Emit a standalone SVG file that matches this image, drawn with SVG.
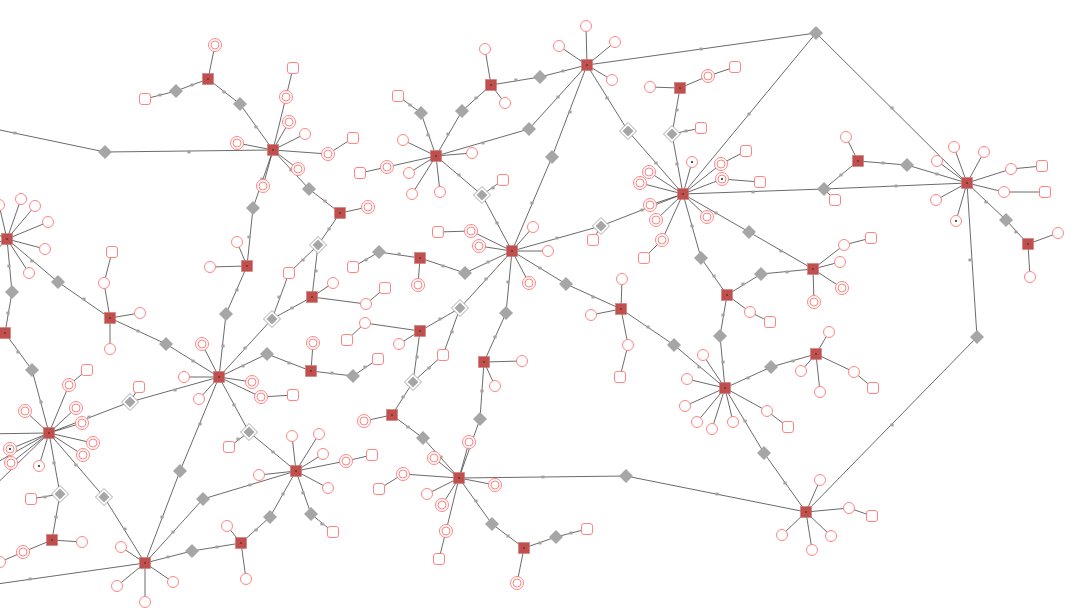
<svg xmlns="http://www.w3.org/2000/svg" width="1080" height="608" viewBox="0 0 1080 608">
<style>
.lf{fill:#fff;stroke:#ff8585;stroke-width:1}
#connectors line{stroke:#3a3a3a;stroke-width:0.75}
</style>
<defs>
<circle id="c" r="5.5" class="lf"/>
<g id="cc"><circle r="6.5" class="lf"/><circle r="4" class="lf"/></g>
<g id="cd"><circle r="5.5" class="lf"/><circle r="0.9" fill="#000"/></g>
<g id="ccd"><circle r="6.5" class="lf"/><circle r="4" class="lf"/><circle r="0.9" fill="#000"/></g>
<rect id="rs" x="-5.5" y="-5.5" width="11" height="11" rx="2.5" class="lf"/>
<g id="hub"><rect x="-5.5" y="-5.5" width="11" height="11" fill="#c0504d" stroke="#d07a78" stroke-width="0.6"/><circle r="0.7" fill="#111"/></g>
<polygon id="dia" points="0,-7 7,0 0,7 -7,0" fill="#a6a6a6"/>
<g id="odia"><polygon points="0,-8.5 8.5,0 0,8.5 -8.5,0" fill="#fff" stroke="#aaa" stroke-width="1"/><polygon points="0,-5.5 5.5,0 0,5.5 -5.5,0" fill="#a6a6a6"/></g>
<rect id="lb" x="-1.6" y="-1.4" width="3.2" height="2.8" fill="#a89f9f"/>
</defs>
<rect width="1080" height="608" fill="#fff"/>
<g id="connectors">
<line x1="7" y1="239" x2="-1" y2="205"/><line x1="7" y1="239" x2="21" y2="199"/><line x1="7" y1="239" x2="35" y2="206"/><line x1="7" y1="239" x2="48" y2="222"/><line x1="7" y1="239" x2="45" y2="249"/><line x1="7" y1="239" x2="29" y2="273"/><line x1="7" y1="239" x2="-20" y2="226"/><line x1="7" y1="239" x2="-20" y2="250"/><line x1="7" y1="239" x2="-20" y2="268"/>
<line x1="273" y1="150" x2="286" y2="97"/><line x1="286" y1="97" x2="293" y2="68"/><line x1="273" y1="150" x2="289" y2="122"/><line x1="273" y1="150" x2="305" y2="134"/><line x1="273" y1="150" x2="237" y2="143"/><line x1="273" y1="150" x2="328" y2="154"/><line x1="328" y1="154" x2="353" y2="138"/><line x1="273" y1="150" x2="298" y2="169"/><line x1="273" y1="150" x2="263" y2="186"/>
<line x1="208" y1="79" x2="215" y2="45"/>
<line x1="436" y1="156" x2="403" y2="140"/><line x1="436" y1="156" x2="472" y2="153"/><line x1="436" y1="156" x2="387" y2="167"/><line x1="387" y1="167" x2="360" y2="173"/><line x1="436" y1="156" x2="409" y2="173"/><line x1="436" y1="156" x2="412" y2="194"/><line x1="436" y1="156" x2="440" y2="192"/>
<line x1="587" y1="65" x2="586" y2="26"/><line x1="587" y1="65" x2="559" y2="46"/><line x1="587" y1="65" x2="615" y2="42"/><line x1="587" y1="65" x2="612" y2="80"/>
<line x1="491" y1="85" x2="485" y2="49"/><line x1="491" y1="85" x2="505" y2="103"/>
<line x1="512" y1="251" x2="471" y2="231"/><line x1="471" y1="231" x2="438" y2="232"/><line x1="512" y1="251" x2="479" y2="246"/><line x1="512" y1="251" x2="533" y2="227"/><line x1="512" y1="251" x2="548" y2="251"/><line x1="512" y1="251" x2="529" y2="283"/>
<line x1="683" y1="194" x2="692" y2="162"/><line x1="683" y1="194" x2="649" y2="172"/><line x1="683" y1="194" x2="640" y2="183"/><line x1="683" y1="194" x2="650" y2="205"/><line x1="683" y1="194" x2="656" y2="220"/><line x1="683" y1="194" x2="662" y2="240"/><line x1="662" y1="240" x2="644" y2="258"/><line x1="683" y1="194" x2="707" y2="217"/><line x1="683" y1="194" x2="721" y2="164"/><line x1="721" y1="164" x2="746" y2="151"/><line x1="683" y1="194" x2="722" y2="179"/><line x1="722" y1="179" x2="760" y2="182"/>
<line x1="680" y1="88" x2="650" y2="87"/><line x1="680" y1="88" x2="708" y2="76"/><line x1="708" y1="76" x2="735" y2="67"/>
<line x1="967" y1="183" x2="954" y2="147"/><line x1="967" y1="183" x2="984" y2="152"/><line x1="967" y1="183" x2="937" y2="161"/><line x1="967" y1="183" x2="1011" y2="169"/><line x1="1011" y1="169" x2="1042" y2="166"/><line x1="967" y1="183" x2="1004" y2="192"/><line x1="1004" y1="192" x2="1045" y2="192"/><line x1="967" y1="183" x2="936" y2="200"/><line x1="967" y1="183" x2="956" y2="221"/>
<line x1="858" y1="161" x2="846" y2="137"/>
<line x1="1028" y1="244" x2="1058" y2="233"/><line x1="1028" y1="244" x2="1030" y2="277"/>
<line x1="806" y1="512" x2="820" y2="480"/><line x1="806" y1="512" x2="849" y2="508"/><line x1="849" y1="508" x2="872" y2="516"/><line x1="806" y1="512" x2="831" y2="536"/><line x1="806" y1="512" x2="812" y2="550"/><line x1="806" y1="512" x2="782" y2="535"/>
<line x1="813" y1="269" x2="844" y2="245"/><line x1="844" y1="245" x2="871" y2="238"/><line x1="813" y1="269" x2="840" y2="262"/><line x1="813" y1="269" x2="842" y2="288"/><line x1="813" y1="269" x2="814" y2="302"/>
<line x1="727" y1="295" x2="750" y2="312"/><line x1="750" y1="312" x2="770" y2="322"/>
<line x1="816" y1="354" x2="829" y2="332"/><line x1="816" y1="354" x2="801" y2="371"/><line x1="816" y1="354" x2="820" y2="392"/><line x1="816" y1="354" x2="854" y2="372"/><line x1="854" y1="372" x2="873" y2="388"/>
<line x1="725" y1="388" x2="703" y2="355"/><line x1="725" y1="388" x2="687" y2="379"/><line x1="725" y1="388" x2="685" y2="406"/><line x1="725" y1="388" x2="697" y2="422"/><line x1="725" y1="388" x2="712" y2="429"/><line x1="725" y1="388" x2="733" y2="422"/><line x1="725" y1="388" x2="767" y2="411"/><line x1="767" y1="411" x2="788" y2="427"/>
<line x1="420" y1="258" x2="418" y2="285"/>
<line x1="420" y1="331" x2="365" y2="323"/><line x1="365" y1="323" x2="347" y2="340"/><line x1="420" y1="331" x2="399" y2="344"/>
<line x1="392" y1="415" x2="364" y2="421"/>
<line x1="484" y1="362" x2="522" y2="361"/><line x1="484" y1="362" x2="495" y2="386"/>
<line x1="459" y1="478" x2="434" y2="458"/><line x1="459" y1="478" x2="469" y2="442"/><line x1="459" y1="478" x2="403" y2="474"/><line x1="403" y1="474" x2="379" y2="489"/><line x1="459" y1="478" x2="427" y2="494"/><line x1="459" y1="478" x2="442" y2="505"/><line x1="459" y1="478" x2="495" y2="485"/><line x1="459" y1="478" x2="446" y2="531"/><line x1="446" y1="531" x2="439" y2="559"/>
<line x1="621" y1="309" x2="622" y2="279"/><line x1="621" y1="309" x2="591" y2="315"/><line x1="621" y1="309" x2="628" y2="345"/><line x1="628" y1="345" x2="620" y2="377"/>
<line x1="110" y1="318" x2="104" y2="283"/><line x1="104" y1="283" x2="112" y2="252"/><line x1="110" y1="318" x2="140" y2="313"/><line x1="110" y1="318" x2="110" y2="349"/>
<line x1="49" y1="433" x2="25" y2="411"/><line x1="49" y1="433" x2="76" y2="408"/><line x1="49" y1="433" x2="82" y2="423"/><line x1="49" y1="433" x2="93" y2="443"/><line x1="49" y1="433" x2="83" y2="455"/><line x1="49" y1="433" x2="10" y2="449"/><line x1="49" y1="433" x2="11" y2="463"/><line x1="49" y1="433" x2="39" y2="466"/><line x1="49" y1="433" x2="69" y2="385"/><line x1="69" y1="385" x2="87" y2="370"/><line x1="49" y1="433" x2="-20" y2="434"/><line x1="49" y1="433" x2="-20" y2="472"/><line x1="49" y1="433" x2="-20" y2="500"/>
<line x1="219" y1="377" x2="202" y2="344"/><line x1="219" y1="377" x2="184" y2="377"/><line x1="219" y1="377" x2="252" y2="382"/><line x1="219" y1="377" x2="261" y2="397"/><line x1="261" y1="397" x2="293" y2="395"/><line x1="219" y1="377" x2="199" y2="399"/>
<line x1="247" y1="266" x2="237" y2="242"/><line x1="247" y1="266" x2="210" y2="267"/>
<line x1="340" y1="213" x2="368" y2="207"/>
<line x1="312" y1="297" x2="333" y2="283"/><line x1="312" y1="297" x2="366" y2="304"/><line x1="366" y1="304" x2="385" y2="288"/>
<line x1="311" y1="371" x2="313" y2="343"/>
<line x1="52" y1="540" x2="82" y2="542"/><line x1="52" y1="540" x2="23" y2="552"/><line x1="23" y1="552" x2="0" y2="562"/>
<line x1="145" y1="563" x2="121" y2="547"/><line x1="145" y1="563" x2="117" y2="586"/><line x1="145" y1="563" x2="145" y2="602"/><line x1="145" y1="563" x2="173" y2="582"/><line x1="145" y1="563" x2="-10" y2="585"/>
<line x1="296" y1="471" x2="292" y2="436"/><line x1="296" y1="471" x2="319" y2="434"/><line x1="296" y1="471" x2="323" y2="454"/><line x1="296" y1="471" x2="346" y2="461"/><line x1="346" y1="461" x2="372" y2="455"/><line x1="296" y1="471" x2="259" y2="475"/><line x1="296" y1="471" x2="328" y2="488"/>
<line x1="241" y1="543" x2="227" y2="526"/><line x1="241" y1="543" x2="246" y2="579"/>
<line x1="524" y1="548" x2="517" y2="583"/>
<line x1="-5" y1="129" x2="105" y2="152"/><line x1="105" y1="152" x2="273" y2="150"/>
<line x1="208" y1="79" x2="176" y2="91"/><line x1="176" y1="91" x2="145" y2="99"/>
<line x1="208" y1="79" x2="240" y2="104"/><line x1="240" y1="104" x2="273" y2="150"/>
<line x1="273" y1="150" x2="309" y2="189"/><line x1="309" y1="189" x2="340" y2="213"/>
<line x1="273" y1="150" x2="253" y2="208"/><line x1="253" y1="208" x2="247" y2="266"/>
<line x1="587" y1="65" x2="540" y2="77"/><line x1="540" y1="77" x2="491" y2="85"/>
<line x1="491" y1="85" x2="462" y2="111"/><line x1="462" y1="111" x2="436" y2="156"/>
<line x1="436" y1="156" x2="421" y2="113"/><line x1="421" y1="113" x2="398" y2="96"/>
<line x1="436" y1="156" x2="529" y2="129"/><line x1="529" y1="129" x2="587" y2="65"/>
<line x1="587" y1="65" x2="552" y2="157"/><line x1="552" y1="157" x2="512" y2="251"/>
<line x1="436" y1="156" x2="482" y2="195"/><line x1="482" y1="195" x2="512" y2="251"/><line x1="482" y1="195" x2="503" y2="180"/>
<line x1="587" y1="65" x2="628" y2="131"/><line x1="628" y1="131" x2="683" y2="194"/>
<line x1="680" y1="88" x2="672" y2="134"/><line x1="672" y1="134" x2="683" y2="194"/><line x1="672" y1="134" x2="701" y2="128"/>
<line x1="587" y1="65" x2="816" y2="33"/><line x1="816" y1="33" x2="683" y2="194"/><line x1="816" y1="33" x2="967" y2="183"/>
<line x1="858" y1="161" x2="907" y2="165"/><line x1="907" y1="165" x2="967" y2="183"/>
<line x1="683" y1="194" x2="824" y2="189"/><line x1="824" y1="189" x2="967" y2="183"/><line x1="858" y1="161" x2="824" y2="189"/><line x1="824" y1="189" x2="835" y2="200"/>
<line x1="967" y1="183" x2="1006" y2="220"/><line x1="1006" y1="220" x2="1028" y2="244"/>
<line x1="967" y1="183" x2="977" y2="337"/><line x1="977" y1="337" x2="806" y2="512"/>
<line x1="683" y1="194" x2="749" y2="232"/><line x1="749" y1="232" x2="813" y2="269"/>
<line x1="727" y1="295" x2="761" y2="274"/><line x1="761" y1="274" x2="813" y2="269"/>
<line x1="727" y1="295" x2="720" y2="336"/><line x1="720" y1="336" x2="725" y2="388"/>
<line x1="816" y1="354" x2="771" y2="367"/><line x1="771" y1="367" x2="725" y2="388"/>
<line x1="683" y1="194" x2="701" y2="258"/><line x1="701" y1="258" x2="727" y2="295"/>
<line x1="621" y1="309" x2="674" y2="345"/><line x1="674" y1="345" x2="725" y2="388"/>
<line x1="512" y1="251" x2="566" y2="284"/><line x1="566" y1="284" x2="621" y2="309"/>
<line x1="512" y1="251" x2="465" y2="273"/><line x1="465" y1="273" x2="420" y2="258"/>
<line x1="420" y1="258" x2="379" y2="252"/><line x1="379" y1="252" x2="353" y2="267"/>
<line x1="512" y1="251" x2="506" y2="313"/><line x1="506" y1="313" x2="484" y2="362"/>
<line x1="484" y1="362" x2="480" y2="419"/><line x1="480" y1="419" x2="459" y2="478"/>
<line x1="392" y1="415" x2="423" y2="438"/><line x1="423" y1="438" x2="459" y2="478"/>
<line x1="459" y1="478" x2="626" y2="476"/><line x1="626" y1="476" x2="806" y2="512"/>
<line x1="459" y1="478" x2="492" y2="524"/><line x1="492" y1="524" x2="524" y2="548"/>
<line x1="524" y1="548" x2="556" y2="537"/><line x1="556" y1="537" x2="587" y2="529"/>
<line x1="725" y1="388" x2="764" y2="453"/><line x1="764" y1="453" x2="806" y2="512"/>
<line x1="512" y1="251" x2="601" y2="226"/><line x1="601" y1="226" x2="683" y2="194"/><line x1="601" y1="226" x2="593" y2="240"/>
<line x1="512" y1="251" x2="460" y2="308"/><line x1="460" y1="308" x2="420" y2="331"/><line x1="460" y1="308" x2="443" y2="355"/><line x1="443" y1="355" x2="413" y2="382"/>
<line x1="420" y1="331" x2="413" y2="382"/><line x1="413" y1="382" x2="392" y2="415"/>
<line x1="340" y1="213" x2="318" y2="245"/><line x1="318" y1="245" x2="289" y2="273"/><line x1="289" y1="273" x2="272" y2="319"/><line x1="272" y1="319" x2="219" y2="377"/>
<line x1="318" y1="245" x2="312" y2="297"/><line x1="312" y1="297" x2="272" y2="319"/>
<line x1="7" y1="239" x2="58" y2="282"/><line x1="58" y1="282" x2="110" y2="318"/>
<line x1="7" y1="239" x2="12" y2="292"/><line x1="12" y1="292" x2="5" y2="333"/>
<line x1="5" y1="333" x2="32" y2="370"/><line x1="32" y1="370" x2="49" y2="433"/>
<line x1="110" y1="318" x2="166" y2="344"/><line x1="166" y1="344" x2="219" y2="377"/>
<line x1="247" y1="266" x2="226" y2="314"/><line x1="226" y1="314" x2="219" y2="377"/>
<line x1="219" y1="377" x2="267" y2="354"/><line x1="267" y1="354" x2="311" y2="371"/>
<line x1="311" y1="371" x2="353" y2="376"/><line x1="353" y1="376" x2="378" y2="359"/>
<line x1="219" y1="377" x2="130" y2="402"/><line x1="130" y1="402" x2="49" y2="433"/><line x1="130" y1="402" x2="139" y2="387"/>
<line x1="49" y1="433" x2="60" y2="494"/><line x1="60" y1="494" x2="52" y2="540"/><line x1="60" y1="494" x2="31" y2="499"/>
<line x1="49" y1="433" x2="104" y2="497"/><line x1="104" y1="497" x2="145" y2="563"/>
<line x1="219" y1="377" x2="249" y2="432"/><line x1="249" y1="432" x2="296" y2="471"/><line x1="249" y1="432" x2="229" y2="447"/>
<line x1="145" y1="563" x2="180" y2="471"/><line x1="180" y1="471" x2="219" y2="377"/>
<line x1="145" y1="563" x2="203" y2="499"/><line x1="203" y1="499" x2="296" y2="471"/>
<line x1="145" y1="563" x2="192" y2="551"/><line x1="192" y1="551" x2="241" y2="543"/>
<line x1="241" y1="543" x2="270" y2="517"/><line x1="270" y1="517" x2="296" y2="471"/>
<line x1="296" y1="471" x2="311" y2="514"/><line x1="311" y1="514" x2="333" y2="532"/>
</g>
<g id="edge-labels">
<use href="#lb" x="15" y="133"/><use href="#lb" x="189" y="152"/><use href="#lb" x="192" y="85"/><use href="#lb" x="160" y="95"/><use href="#lb" x="224" y="92"/><use href="#lb" x="256" y="127"/><use href="#lb" x="262" y="179"/><use href="#lb" x="291" y="170"/><use href="#lb" x="325" y="201"/><use href="#lb" x="329" y="229"/><use href="#lb" x="303" y="260"/><use href="#lb" x="279" y="297"/><use href="#lb" x="245" y="348"/><use href="#lb" x="316" y="271"/><use href="#lb" x="292" y="308"/><use href="#lb" x="332" y="373"/><use href="#lb" x="289" y="363"/><use href="#lb" x="243" y="366"/><use href="#lb" x="237" y="290"/><use href="#lb" x="223" y="346"/><use href="#lb" x="249" y="237"/><use href="#lb" x="32" y="261"/><use href="#lb" x="84" y="299"/><use href="#lb" x="9" y="266"/><use href="#lb" x="8" y="313"/><use href="#lb" x="18" y="352"/><use href="#lb" x="138" y="331"/><use href="#lb" x="193" y="361"/><use href="#lb" x="175" y="390"/><use href="#lb" x="89" y="417"/><use href="#lb" x="41" y="402"/><use href="#lb" x="54" y="463"/><use href="#lb" x="45" y="497"/><use href="#lb" x="56" y="517"/><use href="#lb" x="76" y="465"/><use href="#lb" x="125" y="529"/><use href="#lb" x="30" y="579"/><use href="#lb" x="273" y="452"/><use href="#lb" x="238" y="439"/><use href="#lb" x="234" y="405"/><use href="#lb" x="200" y="424"/><use href="#lb" x="162" y="517"/><use href="#lb" x="173" y="532"/><use href="#lb" x="250" y="485"/><use href="#lb" x="168" y="557"/><use href="#lb" x="217" y="547"/><use href="#lb" x="256" y="530"/><use href="#lb" x="283" y="494"/><use href="#lb" x="303" y="493"/><use href="#lb" x="322" y="524"/>
<use href="#lb" x="428" y="135"/><use href="#lb" x="410" y="105"/><use href="#lb" x="448" y="134"/><use href="#lb" x="476" y="98"/><use href="#lb" x="516" y="80"/><use href="#lb" x="563" y="71"/><use href="#lb" x="558" y="97"/><use href="#lb" x="483" y="143"/><use href="#lb" x="570" y="112"/><use href="#lb" x="607" y="98"/><use href="#lb" x="656" y="163"/><use href="#lb" x="677" y="110"/><use href="#lb" x="686" y="131"/><use href="#lb" x="701" y="49"/><use href="#lb" x="459" y="175"/><use href="#lb" x="493" y="188"/>
<use href="#lb" x="677" y="164"/><use href="#lb" x="749" y="114"/><use href="#lb" x="892" y="108"/><use href="#lb" x="883" y="163"/><use href="#lb" x="937" y="174"/><use href="#lb" x="841" y="175"/><use href="#lb" x="896" y="186"/><use href="#lb" x="753" y="192"/><use href="#lb" x="986" y="202"/><use href="#lb" x="1016" y="232"/><use href="#lb" x="970" y="260"/><use href="#lb" x="892" y="425"/><use href="#lb" x="716" y="213"/><use href="#lb" x="692" y="226"/><use href="#lb" x="714" y="276"/><use href="#lb" x="781" y="251"/><use href="#lb" x="787" y="272"/><use href="#lb" x="743" y="284"/><use href="#lb" x="723" y="315"/><use href="#lb" x="723" y="362"/><use href="#lb" x="793" y="361"/><use href="#lb" x="748" y="378"/><use href="#lb" x="699" y="367"/><use href="#lb" x="745" y="421"/><use href="#lb" x="785" y="483"/><use href="#lb" x="717" y="494"/><use href="#lb" x="642" y="210"/>
<use href="#lb" x="497" y="223"/><use href="#lb" x="532" y="203"/><use href="#lb" x="488" y="262"/><use href="#lb" x="443" y="266"/><use href="#lb" x="399" y="254"/><use href="#lb" x="366" y="260"/><use href="#lb" x="486" y="279"/><use href="#lb" x="440" y="319"/><use href="#lb" x="417" y="357"/><use href="#lb" x="452" y="332"/><use href="#lb" x="429" y="368"/><use href="#lb" x="403" y="397"/><use href="#lb" x="508" y="282"/><use href="#lb" x="495" y="337"/><use href="#lb" x="482" y="391"/><use href="#lb" x="540" y="268"/><use href="#lb" x="593" y="297"/><use href="#lb" x="648" y="327"/><use href="#lb" x="557" y="238"/>
<use href="#lb" x="408" y="427"/><use href="#lb" x="441" y="457"/><use href="#lb" x="469" y="448"/><use href="#lb" x="543" y="477"/><use href="#lb" x="476" y="501"/><use href="#lb" x="508" y="536"/><use href="#lb" x="540" y="543"/><use href="#lb" x="571" y="533"/><use href="#lb" x="365" y="367"/>
</g>
<g id="leaves">
<g id="n1"><use href="#c" x="-1" y="205"/></g><g id="n2"><use href="#c" x="21" y="199"/></g><g id="n3"><use href="#c" x="35" y="206"/></g><g id="n4"><use href="#c" x="48" y="222"/></g><g id="n5"><use href="#c" x="45" y="249"/></g><g id="n6"><use href="#c" x="29" y="273"/></g>
<g id="n7"><use href="#cc" x="286" y="97"/></g><g id="n8"><use href="#rs" x="293" y="68"/></g><g id="n9"><use href="#cc" x="289" y="122"/></g><g id="n10"><use href="#c" x="305" y="134"/></g><g id="n11"><use href="#cc" x="237" y="143"/></g><g id="n12"><use href="#cc" x="328" y="154"/></g><g id="n13"><use href="#rs" x="353" y="138"/></g><g id="n14"><use href="#cc" x="298" y="169"/></g><g id="n15"><use href="#cc" x="263" y="186"/></g>
<g id="n16"><use href="#cc" x="215" y="45"/></g><g id="n17"><use href="#rs" x="145" y="99"/></g>
<g id="n18"><use href="#c" x="403" y="140"/></g><g id="n19"><use href="#c" x="472" y="153"/></g><g id="n20"><use href="#cc" x="387" y="167"/></g><g id="n21"><use href="#rs" x="360" y="173"/></g><g id="n22"><use href="#c" x="409" y="173"/></g><g id="n23"><use href="#c" x="412" y="194"/></g><g id="n24"><use href="#c" x="440" y="192"/></g><g id="n25"><use href="#rs" x="398" y="96"/></g><g id="n26"><use href="#rs" x="503" y="180"/></g>
<g id="n27"><use href="#c" x="586" y="26"/></g><g id="n28"><use href="#c" x="559" y="46"/></g><g id="n29"><use href="#c" x="615" y="42"/></g><g id="n30"><use href="#c" x="612" y="80"/></g>
<g id="n31"><use href="#c" x="485" y="49"/></g><g id="n32"><use href="#c" x="505" y="103"/></g>
<g id="n33"><use href="#cc" x="471" y="231"/></g><g id="n34"><use href="#rs" x="438" y="232"/></g><g id="n35"><use href="#cc" x="479" y="246"/></g><g id="n36"><use href="#c" x="533" y="227"/></g><g id="n37"><use href="#c" x="548" y="251"/></g><g id="n38"><use href="#cc" x="529" y="283"/></g>
<g id="n39"><use href="#cd" x="692" y="162"/></g><g id="n40"><use href="#cc" x="649" y="172"/></g><g id="n41"><use href="#cc" x="640" y="183"/></g><g id="n42"><use href="#cc" x="650" y="205"/></g><g id="n43"><use href="#cc" x="656" y="220"/></g><g id="n44"><use href="#cc" x="662" y="240"/></g><g id="n45"><use href="#rs" x="644" y="258"/></g><g id="n46"><use href="#cc" x="707" y="217"/></g><g id="n47"><use href="#cc" x="721" y="164"/></g><g id="n48"><use href="#rs" x="746" y="151"/></g><g id="n49"><use href="#ccd" x="722" y="179"/></g><g id="n50"><use href="#rs" x="760" y="182"/></g>
<g id="n51"><use href="#c" x="650" y="87"/></g><g id="n52"><use href="#cc" x="708" y="76"/></g><g id="n53"><use href="#rs" x="735" y="67"/></g><g id="n54"><use href="#rs" x="701" y="128"/></g>
<g id="n55"><use href="#c" x="954" y="147"/></g><g id="n56"><use href="#c" x="984" y="152"/></g><g id="n57"><use href="#c" x="937" y="161"/></g><g id="n58"><use href="#c" x="1011" y="169"/></g><g id="n59"><use href="#rs" x="1042" y="166"/></g><g id="n60"><use href="#c" x="1004" y="192"/></g><g id="n61"><use href="#rs" x="1045" y="192"/></g><g id="n62"><use href="#c" x="936" y="200"/></g><g id="n63"><use href="#cd" x="956" y="221"/></g>
<g id="n64"><use href="#c" x="846" y="137"/></g><g id="n65"><use href="#rs" x="835" y="200"/></g>
<g id="n66"><use href="#c" x="1058" y="233"/></g><g id="n67"><use href="#c" x="1030" y="277"/></g>
<g id="n68"><use href="#c" x="820" y="480"/></g><g id="n69"><use href="#c" x="849" y="508"/></g><g id="n70"><use href="#rs" x="872" y="516"/></g><g id="n71"><use href="#c" x="831" y="536"/></g><g id="n72"><use href="#c" x="812" y="550"/></g><g id="n73"><use href="#c" x="782" y="535"/></g>
<g id="n74"><use href="#c" x="844" y="245"/></g><g id="n75"><use href="#rs" x="871" y="238"/></g><g id="n76"><use href="#c" x="840" y="262"/></g><g id="n77"><use href="#cc" x="842" y="288"/></g><g id="n78"><use href="#cc" x="814" y="302"/></g>
<g id="n79"><use href="#c" x="750" y="312"/></g><g id="n80"><use href="#rs" x="770" y="322"/></g>
<g id="n81"><use href="#c" x="829" y="332"/></g><g id="n82"><use href="#c" x="801" y="371"/></g><g id="n83"><use href="#c" x="820" y="392"/></g><g id="n84"><use href="#c" x="854" y="372"/></g><g id="n85"><use href="#rs" x="873" y="388"/></g>
<g id="n86"><use href="#c" x="703" y="355"/></g><g id="n87"><use href="#c" x="687" y="379"/></g><g id="n88"><use href="#c" x="685" y="406"/></g><g id="n89"><use href="#c" x="697" y="422"/></g><g id="n90"><use href="#c" x="712" y="429"/></g><g id="n91"><use href="#c" x="733" y="422"/></g><g id="n92"><use href="#c" x="767" y="411"/></g><g id="n93"><use href="#rs" x="788" y="427"/></g>
<g id="n94"><use href="#cc" x="418" y="285"/></g><g id="n95"><use href="#rs" x="353" y="267"/></g>
<g id="n96"><use href="#c" x="365" y="323"/></g><g id="n97"><use href="#rs" x="347" y="340"/></g><g id="n98"><use href="#c" x="399" y="344"/></g><g id="n99"><use href="#rs" x="443" y="355"/></g>
<g id="n100"><use href="#cc" x="364" y="421"/></g>
<g id="n101"><use href="#c" x="522" y="361"/></g><g id="n102"><use href="#c" x="495" y="386"/></g>
<g id="n103"><use href="#cc" x="434" y="458"/></g><g id="n104"><use href="#cc" x="469" y="442"/></g><g id="n105"><use href="#cc" x="403" y="474"/></g><g id="n106"><use href="#rs" x="379" y="489"/></g><g id="n107"><use href="#c" x="427" y="494"/></g><g id="n108"><use href="#cc" x="442" y="505"/></g><g id="n109"><use href="#cc" x="495" y="485"/></g><g id="n110"><use href="#cc" x="446" y="531"/></g><g id="n111"><use href="#rs" x="439" y="559"/></g>
<g id="n112"><use href="#c" x="622" y="279"/></g><g id="n113"><use href="#c" x="591" y="315"/></g><g id="n114"><use href="#c" x="628" y="345"/></g><g id="n115"><use href="#rs" x="620" y="377"/></g>
<g id="n116"><use href="#rs" x="593" y="240"/></g><g id="n117"><use href="#rs" x="587" y="529"/></g><g id="n118"><use href="#cc" x="517" y="583"/></g>
<g id="n119"><use href="#c" x="104" y="283"/></g><g id="n120"><use href="#rs" x="112" y="252"/></g><g id="n121"><use href="#c" x="140" y="313"/></g><g id="n122"><use href="#c" x="110" y="349"/></g>
<g id="n123"><use href="#cc" x="25" y="411"/></g><g id="n124"><use href="#cc" x="76" y="408"/></g><g id="n125"><use href="#cc" x="82" y="423"/></g><g id="n126"><use href="#cc" x="93" y="443"/></g><g id="n127"><use href="#cc" x="83" y="455"/></g><g id="n128"><use href="#ccd" x="10" y="449"/></g><g id="n129"><use href="#cc" x="11" y="463"/></g><g id="n130"><use href="#cd" x="39" y="466"/></g><g id="n131"><use href="#cc" x="69" y="385"/></g><g id="n132"><use href="#rs" x="87" y="370"/></g>
<g id="n133"><use href="#cc" x="202" y="344"/></g><g id="n134"><use href="#c" x="184" y="377"/></g><g id="n135"><use href="#cc" x="252" y="382"/></g><g id="n136"><use href="#cc" x="261" y="397"/></g><g id="n137"><use href="#rs" x="293" y="395"/></g><g id="n138"><use href="#c" x="199" y="399"/></g><g id="n139"><use href="#rs" x="139" y="387"/></g>
<g id="n140"><use href="#c" x="237" y="242"/></g><g id="n141"><use href="#c" x="210" y="267"/></g>
<g id="n142"><use href="#cc" x="368" y="207"/></g><g id="n143"><use href="#rs" x="289" y="273"/></g>
<g id="n144"><use href="#c" x="333" y="283"/></g><g id="n145"><use href="#c" x="366" y="304"/></g><g id="n146"><use href="#rs" x="385" y="288"/></g>
<g id="n148"><use href="#cc" x="313" y="343"/></g><g id="n149"><use href="#rs" x="378" y="359"/></g>
<g id="n150"><use href="#c" x="82" y="542"/></g><g id="n151"><use href="#cc" x="23" y="552"/></g><g id="n152"><use href="#c" x="0" y="562"/></g><g id="n153"><use href="#rs" x="31" y="499"/></g>
<g id="n154"><use href="#c" x="121" y="547"/></g><g id="n155"><use href="#c" x="117" y="586"/></g><g id="n156"><use href="#c" x="145" y="602"/></g><g id="n157"><use href="#c" x="173" y="582"/></g>
<g id="n158"><use href="#c" x="292" y="436"/></g><g id="n159"><use href="#c" x="319" y="434"/></g><g id="n160"><use href="#c" x="323" y="454"/></g><g id="n161"><use href="#cc" x="346" y="461"/></g><g id="n162"><use href="#rs" x="372" y="455"/></g><g id="n163"><use href="#c" x="259" y="475"/></g><g id="n164"><use href="#c" x="328" y="488"/></g><g id="n165"><use href="#rs" x="229" y="447"/></g><g id="n166"><use href="#rs" x="333" y="532"/></g>
<g id="n167"><use href="#c" x="227" y="526"/></g><g id="n168"><use href="#c" x="246" y="579"/></g>
</g>
<g id="diamonds">
<g id="D1"><use href="#dia" x="105" y="152"/></g><g id="D2"><use href="#dia" x="176" y="91"/></g><g id="D3"><use href="#dia" x="240" y="104"/></g><g id="D4"><use href="#dia" x="309" y="189"/></g><g id="D5"><use href="#dia" x="253" y="208"/></g><g id="D6"><use href="#dia" x="540" y="77"/></g><g id="D7"><use href="#dia" x="462" y="111"/></g><g id="D8"><use href="#dia" x="421" y="113"/></g><g id="D9"><use href="#dia" x="529" y="129"/></g><g id="D10"><use href="#dia" x="552" y="157"/></g><g id="D11"><use href="#dia" x="816" y="33"/></g><g id="D12"><use href="#dia" x="907" y="165"/></g><g id="D13"><use href="#dia" x="824" y="189"/></g><g id="D14"><use href="#dia" x="1006" y="220"/></g><g id="D15"><use href="#dia" x="977" y="337"/></g><g id="D16"><use href="#dia" x="749" y="232"/></g><g id="D17"><use href="#dia" x="761" y="274"/></g><g id="D18"><use href="#dia" x="720" y="336"/></g><g id="D19"><use href="#dia" x="771" y="367"/></g><g id="D20"><use href="#dia" x="701" y="258"/></g><g id="D21"><use href="#dia" x="674" y="345"/></g><g id="D22"><use href="#dia" x="566" y="284"/></g><g id="D23"><use href="#dia" x="465" y="273"/></g><g id="D24"><use href="#dia" x="379" y="252"/></g><g id="D25"><use href="#dia" x="506" y="313"/></g><g id="D26"><use href="#dia" x="480" y="419"/></g><g id="D27"><use href="#dia" x="423" y="438"/></g><g id="D28"><use href="#dia" x="626" y="476"/></g><g id="D29"><use href="#dia" x="492" y="524"/></g><g id="D30"><use href="#dia" x="556" y="537"/></g><g id="D31"><use href="#dia" x="764" y="453"/></g><g id="D32"><use href="#dia" x="58" y="282"/></g><g id="D33"><use href="#dia" x="12" y="292"/></g><g id="D34"><use href="#dia" x="32" y="370"/></g><g id="D35"><use href="#dia" x="166" y="344"/></g><g id="D36"><use href="#dia" x="226" y="314"/></g><g id="D37"><use href="#dia" x="267" y="354"/></g><g id="D38"><use href="#dia" x="353" y="376"/></g><g id="D39"><use href="#dia" x="180" y="471"/></g><g id="D40"><use href="#dia" x="203" y="499"/></g><g id="D41"><use href="#dia" x="192" y="551"/></g><g id="D42"><use href="#dia" x="270" y="517"/></g><g id="D43"><use href="#dia" x="311" y="514"/></g>
<g id="O1"><use href="#odia" x="482" y="195"/></g><g id="O2"><use href="#odia" x="628" y="131"/></g><g id="O3"><use href="#odia" x="672" y="134"/></g><g id="O4"><use href="#odia" x="601" y="226"/></g><g id="O5"><use href="#odia" x="460" y="308"/></g><g id="O6"><use href="#odia" x="413" y="382"/></g><g id="O7"><use href="#odia" x="318" y="245"/></g><g id="O8"><use href="#odia" x="272" y="319"/></g><g id="O9"><use href="#odia" x="130" y="402"/></g><g id="O10"><use href="#odia" x="60" y="494"/></g><g id="O11"><use href="#odia" x="104" y="497"/></g><g id="O12"><use href="#odia" x="249" y="432"/></g>
</g>
<g id="hubs">
<g id="H0"><use href="#hub" x="7" y="239"/></g><g id="H1"><use href="#hub" x="273" y="150"/></g><g id="H2"><use href="#hub" x="208" y="79"/></g><g id="H3"><use href="#hub" x="436" y="156"/></g><g id="H4"><use href="#hub" x="587" y="65"/></g><g id="H5"><use href="#hub" x="491" y="85"/></g><g id="H6"><use href="#hub" x="512" y="251"/></g><g id="H7"><use href="#hub" x="683" y="194"/></g><g id="H8"><use href="#hub" x="680" y="88"/></g><g id="H9"><use href="#hub" x="967" y="183"/></g><g id="H10"><use href="#hub" x="858" y="161"/></g><g id="H11"><use href="#hub" x="1028" y="244"/></g><g id="H12"><use href="#hub" x="806" y="512"/></g><g id="H13"><use href="#hub" x="813" y="269"/></g><g id="H14"><use href="#hub" x="727" y="295"/></g><g id="H15"><use href="#hub" x="816" y="354"/></g><g id="H16"><use href="#hub" x="725" y="388"/></g><g id="H17"><use href="#hub" x="420" y="258"/></g><g id="H18"><use href="#hub" x="420" y="331"/></g><g id="H19"><use href="#hub" x="392" y="415"/></g><g id="H20"><use href="#hub" x="484" y="362"/></g><g id="H21"><use href="#hub" x="459" y="478"/></g><g id="H22"><use href="#hub" x="621" y="309"/></g><g id="H23"><use href="#hub" x="110" y="318"/></g><g id="H24"><use href="#hub" x="5" y="333"/></g><g id="H25"><use href="#hub" x="49" y="433"/></g><g id="H26"><use href="#hub" x="219" y="377"/></g><g id="H27"><use href="#hub" x="247" y="266"/></g><g id="H28"><use href="#hub" x="340" y="213"/></g><g id="H29"><use href="#hub" x="312" y="297"/></g><g id="H30"><use href="#hub" x="311" y="371"/></g><g id="H31"><use href="#hub" x="52" y="540"/></g><g id="H32"><use href="#hub" x="145" y="563"/></g><g id="H33"><use href="#hub" x="296" y="471"/></g><g id="H34"><use href="#hub" x="241" y="543"/></g><g id="H35"><use href="#hub" x="524" y="548"/></g>
</g>
</svg>
